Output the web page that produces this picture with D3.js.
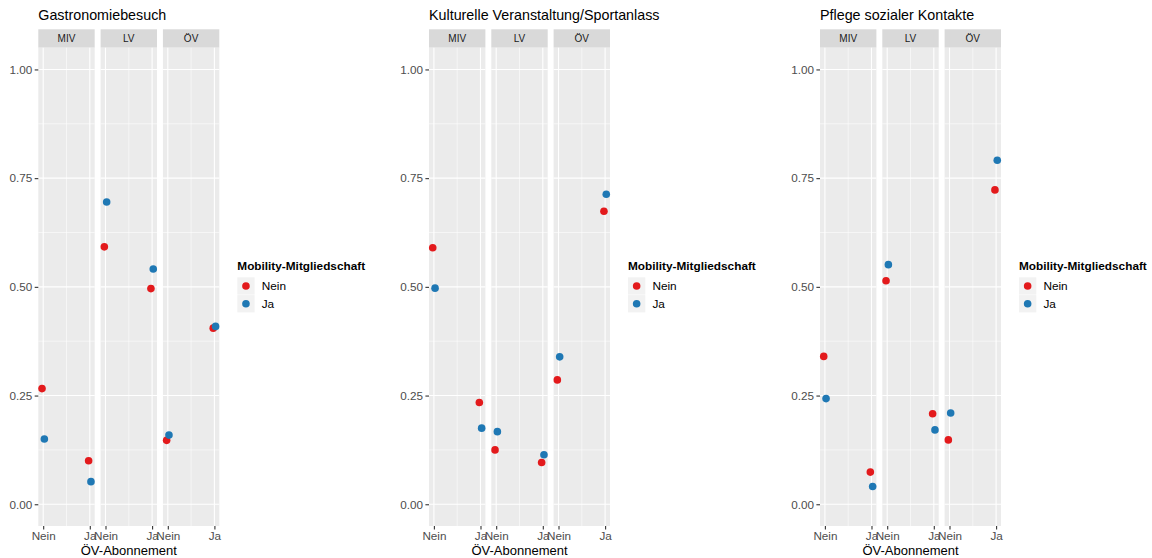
<!DOCTYPE html>
<html>
<head>
<meta charset="utf-8">
<script src="https://cdn.jsdelivr.net/npm/d3@7"></script>
<style>
  html, body { margin: 0; padding: 0; background: #fff; }
  svg { display: block; font-family: "Liberation Sans", Arial, sans-serif; }
</style>
</head>
<body>
<svg id="chart" width="1152" height="558"></svg>
<script>
// ---------- data ----------
const chartTitles = ["Gastronomiebesuch", "Kulturelle Veranstaltung/Sportanlass", "Pflege sozialer Kontakte"];
const modes = ["MIV", "LV", "ÖV"];
const aboLevels = ["Nein", "Ja"];            // ÖV-Abonnement (x axis)
const memberLevels = ["Nein", "Ja"];         // Mobility-Mitgliedschaft (colour)
const yTicks = [0, 0.25, 0.5, 0.75, 1];
const yTickLabels = ["0.00", "0.25", "0.50", "0.75", "1.00"];

// order of values: MIV-Nein, MIV-Ja, LV-Nein, LV-Ja, ÖV-Nein, ÖV-Ja
const gastroNein = [0.266, 0.100, 0.592, 0.496, 0.147, 0.405];
const gastroJa   = [0.150, 0.052, 0.695, 0.541, 0.159, 0.409];
const kulturNein = [0.590, 0.234, 0.125, 0.096, 0.286, 0.674];
const kulturJa   = [0.497, 0.175, 0.167, 0.114, 0.339, 0.713];
const pflegeNein = [0.340, 0.074, 0.514, 0.208, 0.148, 0.723];
const pflegeJa   = [0.243, 0.041, 0.551, 0.171, 0.210, 0.791];

const seriesByChart = [
  [gastroNein, gastroJa],
  [kulturNein, kulturJa],
  [pflegeNein, pflegeJa]
];

const colors = ["#E31A1C", "#1F78B4"];

// ---------- layout ----------
const svg = d3.select("#chart");
const chartLeft = [38.3, 429, 820];
const panelsWidth = 181;
const stripTop = 29.3, panelTop = 47.7, panelBottom = 526;

const y = d3.scaleLinear().domain([-0.05, 1.05]).range([panelBottom, panelTop]);
const color = d3.scaleOrdinal().domain(memberLevels).range(colors);
const dodge = d3.scaleOrdinal().domain(memberLevels).range([-0.025, 0.025]);

chartTitles.forEach((title, ci) => {
  const g = svg.append("g").attr("transform", `translate(${chartLeft[ci]},0)`);
  const band = d3.scaleBand().domain(modes).range([0, panelsWidth]).paddingInner(0.095);
  const bw = band.bandwidth();
  const x = d3.scaleLinear().domain([-0.105, 1.105]).range([0, bw]);

  // title
  g.append("text").attr("x", 0).attr("y", 20)
    .attr("font-size", 14.3).attr("fill", "#000").text(title);

  modes.forEach((m, mi) => {
    const p = g.append("g").attr("transform", `translate(${band(m)},0)`);
    // strip
    p.append("rect").attr("x", 0).attr("y", stripTop).attr("width", bw)
      .attr("height", panelTop - stripTop).attr("fill", "#D9D9D9");
    p.append("text").attr("x", bw / 2).attr("y", (stripTop + panelTop) / 2)
      .attr("dy", "0.35em").attr("text-anchor", "middle")
      .attr("font-size", 10).attr("fill", "#1A1A1A").text(m);
    // panel background
    p.append("rect").attr("x", 0).attr("y", panelTop).attr("width", bw)
      .attr("height", panelBottom - panelTop).attr("fill", "#EBEBEB");
    // minor grid
    const yMinor = yTicks.slice(0, -1).map((t, i) => (t + yTicks[i + 1]) / 2);
    p.selectAll(".ymin").data(yMinor).enter().append("line")
      .attr("x1", 0).attr("x2", bw).attr("y1", d => y(d)).attr("y2", d => y(d))
      .attr("stroke", "#fff").attr("stroke-width", 0.55);
    p.selectAll(".xmin").data([0.5]).enter().append("line")
      .attr("x1", d => x(d)).attr("x2", d => x(d)).attr("y1", panelTop).attr("y2", panelBottom)
      .attr("stroke", "#fff").attr("stroke-width", 0.55);
    // major grid
    p.selectAll(".ymaj").data(yTicks).enter().append("line")
      .attr("x1", 0).attr("x2", bw).attr("y1", d => y(d)).attr("y2", d => y(d))
      .attr("stroke", "#fff").attr("stroke-width", 1.1);
    p.selectAll(".xmaj").data([0, 1]).enter().append("line")
      .attr("x1", d => x(d)).attr("x2", d => x(d)).attr("y1", panelTop).attr("y2", panelBottom)
      .attr("stroke", "#fff").attr("stroke-width", 1.1);

    // x axis
    const xAxis = d3.axisBottom(x).tickValues([0, 1])
      .tickFormat((d, i) => aboLevels[i]).tickSize(3.6).tickPadding(2.5);
    const xa = p.append("g").attr("transform", `translate(0,${panelBottom})`).call(xAxis);
    xa.select(".domain").remove();
    xa.selectAll(".tick line").attr("stroke", "#333333").attr("stroke-width", 1.1);
    xa.selectAll(".tick text").attr("font-size", 11.7).attr("fill", "#4D4D4D")
      .attr("font-family", "Liberation Sans, Arial, sans-serif");

    // points
    const pts = [];
    memberLevels.forEach((mem, si) => {
      aboLevels.forEach((ab, ai) => {
        pts.push({ mem, ab, xv: ai + dodge(mem), v: seriesByChart[ci][si][mi * 2 + ai] });
      });
    });
    p.selectAll(".pt").data(pts).enter().append("circle")
      .attr("cx", d => x(d.xv)).attr("cy", d => y(d.v)).attr("r", 3.8)
      .attr("fill", d => color(d.mem));

    // y axis on first panel
    if (mi === 0) {
      const yAxis = d3.axisLeft(y).tickValues(yTicks)
        .tickFormat((d, i) => yTickLabels[i]).tickSize(3.6).tickPadding(2.5);
      const ya = p.append("g").call(yAxis);
      ya.select(".domain").remove();
      ya.selectAll(".tick line").attr("stroke", "#333333").attr("stroke-width", 1.1);
      ya.selectAll(".tick text").attr("font-size", 11.7).attr("fill", "#4D4D4D")
        .attr("font-family", "Liberation Sans, Arial, sans-serif");
    }
  });

  // x axis title
  g.append("text").attr("x", panelsWidth / 2).attr("y", 555)
    .attr("text-anchor", "middle").attr("font-size", 13).attr("fill", "#000")
    .text("ÖV-Abonnement");

  // legend
  const L = 199;
  const lg = g.append("g").attr("transform", `translate(${L},0)`);
  lg.append("text").attr("x", 0).attr("y", 269.5).attr("font-size", 11.8)
    .attr("font-weight", "bold").attr("fill", "#000").text("Mobility-Mitgliedschaft");
  memberLevels.forEach((mem, i) => {
    const ky = 277.3 + i * 17.8;
    lg.append("rect").attr("x", 0).attr("y", ky).attr("width", 17.3).attr("height", 17.3)
      .attr("fill", "#F2F2F2");
    lg.append("circle").attr("cx", 8.65).attr("cy", ky + 8.65).attr("r", 3.8)
      .attr("fill", color(mem));
    lg.append("text").attr("x", 24.4).attr("y", ky + 8.65).attr("dy", "0.35em")
      .attr("font-size", 11.8).attr("fill", "#000").text(mem);
  });
});
</script>
</body>
</html>
